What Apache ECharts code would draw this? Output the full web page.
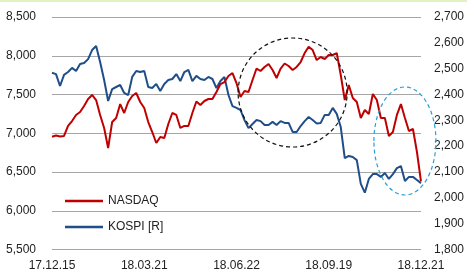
<!DOCTYPE html>
<html>
<head>
<meta charset="utf-8">
<script src="https://cdn.jsdelivr.net/npm/echarts@6/dist/echarts.min.js"></script>
<style>
  html, body { margin: 0; padding: 0; background: #fff; }
  #chart { width: 467px; height: 275px; }
</style>
</head>
<body>
<div id="chart"></div>
<script>
// tick labels on the category axis (start, 3 quarters, end)
const tickLabels = ['17.12.15', '18.03.21', '18.06.22', '18.09.19', '18.12.21'];

// NASDAQ (left axis)
const nasdaq = [
  6955, 6971, 6958, 6965, 7094, 7158, 7236, 7274, 7352, 7442,
  7494, 7429, 7236, 7068, 6810, 7145, 7197, 7377, 7261, 7403,
  7481, 7519, 7403, 7326, 7145, 7016, 6874, 6952, 6939, 7119,
  7261, 7236, 7068, 7094, 7094, 7261, 7410, 7365, 7416, 7442,
  7442, 7532, 7635, 7661, 7739, 7777, 7648, 7468, 7545, 7532,
  7687, 7835, 7803, 7855, 7894, 7816, 7713, 7835, 7900, 7868,
  7816, 7855, 7919, 8035, 8117, 8074, 7945, 7984, 7958, 8010,
  8010, 8035, 7752, 7429, 7623, 7455, 7403, 7197, 7300, 7248,
  7506, 7429, 7197, 7197, 6965, 7016, 7236, 7377, 7197, 7029,
  7055, 6758, 6380
];

// KOSPI (right axis)
const kospi = [
  2484, 2479, 2433, 2476, 2487, 2503, 2491, 2518, 2522, 2537,
  2572, 2588, 2526, 2456, 2375, 2421, 2429, 2437, 2406, 2398,
  2468, 2491, 2487, 2491, 2429, 2425, 2441, 2414, 2441, 2456,
  2460, 2479, 2452, 2487, 2495, 2452, 2472, 2460, 2456, 2468,
  2460, 2425, 2452, 2468, 2398, 2355, 2348, 2340, 2301, 2270,
  2286, 2301, 2297, 2282, 2282, 2294, 2282, 2297, 2290, 2290,
  2255, 2255, 2278, 2297, 2313, 2301, 2288, 2290, 2321, 2321,
  2348, 2325, 2274, 2154, 2162, 2158, 2146, 2054, 2020, 2073,
  2092, 2092, 2081, 2096, 2073, 2092, 2115, 2123, 2065, 2081,
  2081, 2069, 2057
];

const step = (nasdaq.length - 1) / (tickLabels.length - 1);
const categories = nasdaq.map((v, i) => (i % step === 0 ? tickLabels[i / step] : ''));

const font = '"Liberation Sans", Arial, sans-serif';
const chart = echarts.init(document.getElementById('chart'));

chart.setOption({
  animation: false,
  backgroundColor: '#fff',
  grid: { left: 52, right: 44, top: 17, bottom: 25.5 },
  legend: {
    orient: 'vertical',
    left: 60,
    top: 190,
    itemGap: 14,
    itemWidth: 38,
    itemHeight: 2.5,
    icon: 'rect',
    data: ['NASDAQ', 'KOSPI [R]'],
    textStyle: { fontFamily: font, fontSize: 12, color: '#222' }
  },
  xAxis: {
    type: 'category',
    data: categories,
    boundaryGap: false,
    axisLine: { show: false },
    axisTick: { show: false },
    axisLabel: {
      interval: step - 1,
      margin: 10,
      fontFamily: font,
      fontSize: 12,
      color: '#222'
    },
    splitLine: { show: false }
  },
  yAxis: [
    {
      type: 'value',
      min: 5500,
      max: 8500,
      interval: 500,
      axisLine: { show: false },
      axisTick: { show: false },
      axisLabel: { margin: 16, fontFamily: font, fontSize: 12, color: '#222' },
      splitLine: { lineStyle: { color: '#a6a6a6', width: 1.2 } }
    },
    {
      type: 'value',
      min: 1800,
      max: 2700,
      interval: 100,
      axisLine: { show: false },
      axisTick: { show: false },
      axisLabel: { margin: 13, fontFamily: font, fontSize: 12, color: '#222' },
      splitLine: { show: false }
    }
  ],
  series: [
    {
      name: 'NASDAQ',
      type: 'line',
      yAxisIndex: 0,
      data: nasdaq,
      symbol: 'none',
      z: 3,
      lineStyle: { color: '#c00000', width: 2 },
      itemStyle: { color: '#c00000' }
    },
    {
      name: 'KOSPI [R]',
      type: 'line',
      yAxisIndex: 1,
      data: kospi,
      symbol: 'none',
      z: 2,
      lineStyle: { color: '#1f4e89', width: 2 },
      itemStyle: { color: '#1f4e89' }
    }
  ]
});

// annotation rings, placed from data coordinates
const c1 = chart.convertToPixel({ xAxisIndex: 0, yAxisIndex: 0 }, [60.4, 7526]);
const c2 = chart.convertToPixel({ xAxisIndex: 0, yAxisIndex: 0 }, [88, 6900]);

chart.setOption({
  graphic: [
    {
      type: 'rect',
      left: 0, top: 0,
      shape: { width: 467, height: 2 },
      style: { fill: '#e2f0c4' }
    },
    {
      type: 'ellipse',
      shape: { cx: c1[0], cy: c1[1], rx: 54.5, ry: 54.5 },
      style: { fill: null, stroke: '#111', lineWidth: 1.2, lineDash: [4, 3] },
      z: 10
    },
    {
      type: 'ellipse',
      shape: { cx: c2[0], cy: c2[1], rx: 31, ry: 54 },
      style: { fill: null, stroke: '#2a9fd8', lineWidth: 1.2, lineDash: [4, 3] },
      z: 10
    }
  ]
});
</script>
</body>
</html>
